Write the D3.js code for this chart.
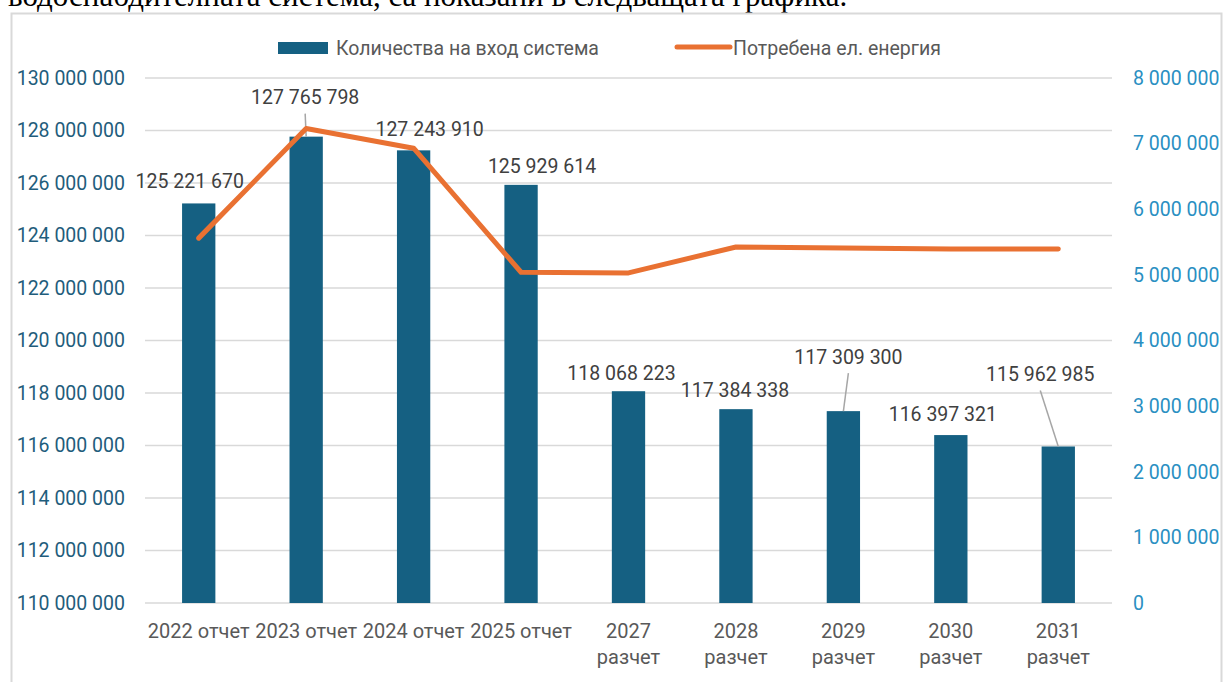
<!DOCTYPE html>
<html>
<head>
<meta charset="utf-8">
<script src="https://cdn.jsdelivr.net/npm/d3@7"></script>
<style>
  html, body { margin: 0; padding: 0; background: #ffffff; }
  svg { display: block; }
</style>
</head>
<body>
<svg id="chart" width="1224" height="682"></svg>
<script>
// Categories (years) and their axis captions
const categories = ["2022", "2023", "2024", "2025", "2027", "2028", "2029", "2030", "2031"];
const categoryLines = [
  ["2022 отчет"], ["2023 отчет"], ["2024 отчет"], ["2025 отчет"],
  ["2027", "разчет"], ["2028", "разчет"], ["2029", "разчет"], ["2030", "разчет"], ["2031", "разчет"]
];

// Water volume into the system (left axis)
const inputVolume = [125221670, 127765798, 127243910, 125929614, 118068223, 117384338, 117309300, 116397321, 115962985];

// Electricity consumed (right axis)
const energyUsed = [5560000, 7230000, 6930000, 5040000, 5030000, 5425000, 5410000, 5395000, 5393000];

// Axis ticks
const leftTicks = [110e6, 112e6, 114e6, 116e6, 118e6, 120e6, 122e6, 124e6, 126e6, 128e6, 130e6];
const rightTicks = [0, 1e6, 2e6, 3e6, 4e6, 5e6, 6e6, 7e6, 8e6];

// Series names
const seriesNames = ["Количества на вход система", "Потребена ел. енергия"];

// Label nudges (dx, dy from the bar top) and which labels get a leader line
const labelNudge = [[-9, -22], [-1, -39], [16, -21], [21, -19], [-7, -18], [-1, -19], [5, -54], [-8, -21], [-18, -72]];
const labelLeader = [false, true, false, false, false, false, true, false, true];

const BAR = "#156082", LINE = "#E97132", GRID = "#d9d9d9";
const FONT = "Roboto, 'Noto Sans', sans-serif";

const svg = d3.select("#chart");
const fmt = v => d3.format(",d")(v).replace(/,/g, " ");

// Running text of the surrounding document, cut by the top edge
svg.append("text")
  .attr("x", 8).attr("y", 6)
  .attr("font-family", "'Liberation Serif', 'DejaVu Serif', serif")
  .attr("font-size", 31)
  .attr("fill", "#000")
  .text("водоснабдителната система, са показани в следващата графика.");

// Chart frame
svg.append("rect")
  .attr("x", 11.5).attr("y", 13.5).attr("width", 1210).attr("height", 720)
  .attr("fill", "#fff").attr("stroke", GRID).attr("stroke-width", 2);

const plot = { left: 145, right: 1112, top: 78, bottom: 603 };

const x = d3.scaleBand().domain(categories)
  .range([plot.left, plot.right])
  .paddingInner(0.69).paddingOuter(0.345);
const yL = d3.scaleLinear().domain([110e6, 130e6]).range([plot.bottom, plot.top]);
const yR = d3.scaleLinear().domain([0, 8e6]).range([plot.bottom, plot.top]);

// Gridlines
svg.append("g").selectAll("line").data(leftTicks).join("line")
  .attr("x1", plot.left).attr("x2", plot.right)
  .attr("y1", d => yL(d)).attr("y2", d => yL(d))
  .attr("stroke", GRID).attr("stroke-width", 1.6);

// Left axis
const leftAxis = svg.append("g")
  .attr("transform", `translate(${plot.left - 20},0)`)
  .call(d3.axisLeft(yL).tickValues(leftTicks).tickFormat(fmt).tickSize(0).tickPadding(0));
leftAxis.select(".domain").remove();
leftAxis.selectAll("text")
  .attr("font-family", FONT).attr("font-size", 19.5).attr("fill", "#1f5d7c");

// Right axis
const rightAxis = svg.append("g")
  .attr("transform", `translate(${plot.right + 21},0)`)
  .call(d3.axisRight(yR).tickValues(rightTicks).tickFormat(fmt).tickSize(0).tickPadding(0));
rightAxis.select(".domain").remove();
rightAxis.selectAll("text")
  .attr("font-family", FONT).attr("font-size", 19.5).attr("fill", "#2a8fc2");

// Category captions
const cat = svg.append("g").selectAll("text").data(categories).join("text")
  .attr("x", d => x(d) + x.bandwidth() / 2)
  .attr("y", 638)
  .attr("text-anchor", "middle")
  .attr("font-family", FONT).attr("font-size", 20).attr("fill", "#595959");
cat.selectAll("tspan").data((d, i) => categoryLines[i]).join("tspan")
  .attr("x", function () { return this.parentNode.getAttribute("x"); })
  .attr("dy", (d, j) => j === 0 ? 0 : 26)
  .text(d => d);

// Bars
svg.append("g").selectAll("rect").data(inputVolume).join("rect")
  .attr("x", (d, i) => x(categories[i]))
  .attr("width", x.bandwidth())
  .attr("y", d => yL(d))
  .attr("height", d => yL(110e6) - yL(d))
  .attr("fill", BAR);

// Leader lines from label to bar
const cx = i => x(categories[i]) + x.bandwidth() / 2;
svg.append("g").selectAll("line").data(inputVolume.map((v, i) => i).filter(i => labelLeader[i])).join("line")
  .attr("x1", i => cx(i) + labelNudge[i][0])
  .attr("y1", i => yL(inputVolume[i]) + labelNudge[i][1] + 16)
  .attr("x2", i => cx(i))
  .attr("y2", i => yL(inputVolume[i]))
  .attr("stroke", "#a6a6a6").attr("stroke-width", 1.5);

// Energy line
const line = d3.line()
  .x((d, i) => cx(i))
  .y(d => yR(d));
svg.append("path").datum(energyUsed)
  .attr("d", line)
  .attr("fill", "none").attr("stroke", LINE).attr("stroke-width", 5)
  .attr("stroke-linejoin", "round").attr("stroke-linecap", "round");

// Value labels
svg.append("g").selectAll("text").data(inputVolume).join("text")
  .attr("x", (d, i) => cx(i) + labelNudge[i][0])
  .attr("y", (d, i) => yL(d) + labelNudge[i][1])
  .attr("dy", "0.35em")
  .attr("text-anchor", "middle")
  .attr("font-family", FONT).attr("font-size", 19.5).attr("fill", "#404040")
  .text(fmt);

// Legend
const legend = svg.append("g");
legend.append("rect").attr("x", 278).attr("y", 42).attr("width", 50).attr("height", 12).attr("fill", BAR);
legend.append("text").attr("x", 336).attr("y", 48).attr("dy", "0.35em")
  .attr("font-family", FONT).attr("font-size", 19.5).attr("fill", "#595959").text(seriesNames[0]);
legend.append("line").attr("x1", 677).attr("x2", 730).attr("y1", 47).attr("y2", 47)
  .attr("stroke", LINE).attr("stroke-width", 5).attr("stroke-linecap", "round");
legend.append("text").attr("x", 733).attr("y", 48).attr("dy", "0.35em")
  .attr("font-family", FONT).attr("font-size", 19.5).attr("fill", "#595959").text(seriesNames[1]);
</script>
</body>
</html>
